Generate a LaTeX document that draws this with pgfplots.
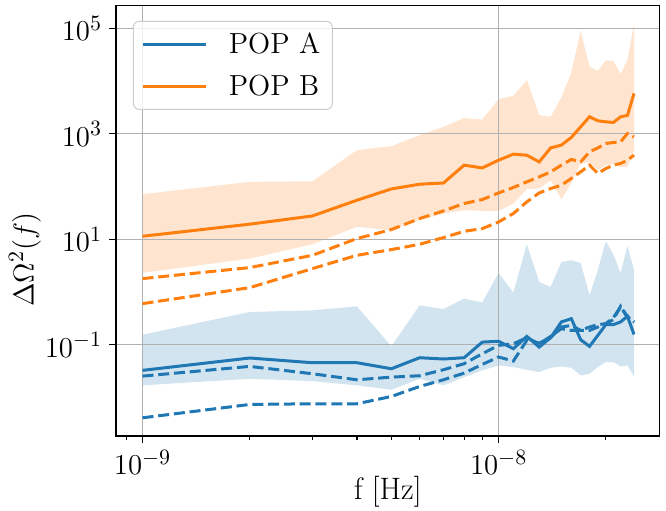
\documentclass[border=0pt]{standalone}
\usepackage{pgfplots}
\pgfplotsset{compat=1.18}
\usepackage{pgfplotstable}
\usepgfplotslibrary{fillbetween}
\definecolor{cA}{HTML}{1F77B4}
\definecolor{cB}{HTML}{FF7F0E}
\definecolor{gridc}{HTML}{B0B0B0}
\definecolor{legc}{HTML}{CCCCCC}

\pgfplotstableread{
f bu bl bs bda bdb
1e-9 0.156 0.0171 0.0329 0.0256 0.00415
2e-9 0.420 0.0228 0.0564 0.0391 0.00743
3e-9 0.452 0.0206 0.0459 0.0284 0.00766
4e-9 0.538 0.0171 0.0459 0.0218 0.00766
5e-9 0.0938 0.0141 0.0353 0.0245 0.01054
6e-9 0.562 0.0228 0.0571 0.0260 0.0163
7e-9 0.479 0.0171 0.0540 0.0338 0.0218
8e-9 0.752 0.0245 0.0571 0.0440 0.0292
9e-9 0.641 0.0329 0.113 0.0681 0.0427
1e-8 2.31 0.0408 0.117 0.0979 0.0589
1.1e-8 0.977 0.0380 0.0847 0.105 0.0494
1.2e-8 8.07 0.0338 0.145 0.137 0.122
1.3e-8 1.56 0.0305 0.0910 0.105 0.108
1.4e-8 1.25 0.0369 0.137 0.145 0.137
1.5e-8 3.73 0.0391 0.272 0.203 0.218
1.6e-8 4.02 0.0369 0.314 0.188 0.234
1.7e-8 3.57 0.0264 0.125 0.188 0.188
1.8e-8 0.871 0.0284 0.0938 0.218 0.188
1.9e-8 2.67 0.0380 0.152 0.242 0.218
2e-8 9.20 0.0473 0.242 0.252 0.252
2.1e-8 5.22 0.0473 0.242 0.328 0.301
2.2e-8 2.31 0.0391 0.272 0.522 0.538
2.3e-8 7.52 0.0408 0.348 0.348 0.328
2.4e-8 2.67 0.0253 0.158 0.272 0.272
}\popA

\pgfplotstableread{
f ou ol os oda odb
1e-9 71.8 2.31 11.46 1.803 0.605
2e-9 123 4.33 19.4 2.917 1.216
3e-9 126 8.07 27.8 4.99 2.79
4e-9 491 17.3 55.2 10.35 4.99
5e-9 585 14.9 90.4 15.35 6.40
6e-9 944 23.1 111 24.8 8.07
7e-9 1358 30.9 117 34.6 10.8
8e-9 1986 35.7 255 47.8 14.2
9e-9 1875 34.7 226 56.9 16.0
1e-8 4550 34.7 317 75.9 21.4
1.1e-8 5260 47.8 412 96.2 30.9
1.2e-8 10450 89.1 394 123 51.3
1.3e-8 2265 92.0 294 153 75.9
1.4e-8 2104 132 542 190 92.0
1.5e-8 4910 56.9 611 255 106
1.6e-8 14390 117 855 327 143
1.7e-8 88900 274 1358 294 190
1.8e-8 18700 294 2104 456 255
1.9e-8 15700 205 1766 542 177
2e-8 24700 255 1690 656 220
2.1e-8 23990 266 1644 685 255
2.2e-8 13580 237 2104 705 274
2.3e-8 25000 237 2234 1016 317
2.4e-8 119100 491 5850 877 394
}\popB

\begin{document}
\begin{tikzpicture}
\begin{axis}[
  set layers,
  fill between/on layer=axis background,
  scale only axis, width=271.75pt, height=215.35pt,
  xmode=log, ymode=log,
  xmin=8.425e-10, xmax=2.83e-8, ymin=1.875e-3, ymax=2.73e5,
  xtick={1e-9,1e-8},
  minor xtick={9e-10,2e-9,3e-9,4e-9,5e-9,6e-9,7e-9,8e-9,9e-9,2e-8},
  ytick={1e-1,1e1,1e3,1e5}, minor ytick={},
  tick align=outside, tick pos=left,
  major tick length=3.5pt, minor tick length=2pt,
  every tick/.style={black, line width=0.6pt},
  grid=major, major grid style={gridc, line width=0.6pt},
  axis line style={black, line width=0.7pt},
  every tick label/.append style={font=\fontsize{15.5}{18}\selectfont},
  label style={font=\fontsize{15.5}{18}\selectfont},
  xlabel={f [Hz]}, ylabel={$\Delta\Omega^2(f)$},
  xlabel style={at={(axis description cs:0.5,-0.130)}, anchor=center},
  ylabel style={at={(axis description cs:-0.1674,0.41)}, anchor=center},
  legend style={at={(0.031,0.964)}, anchor=north west, draw=legc, line width=0.5pt,
    rounded corners=3pt, fill=white, fill opacity=0.8, text opacity=1,
    font=\fontsize{14.5}{17}\selectfont, inner xsep=4pt, inner ysep=3.5pt,
    row sep=5.5pt, /tikz/every odd column/.append style={column sep=8.75pt}},
  legend cell align=left,
  legend image code/.code={\draw[#1] (0pt,0pt) -- (31.5pt,0pt);},
  every axis plot/.append style={line width=1.5pt},
]
\addplot[name path=BU, draw=none, forget plot] table[x=f,y=bu]{\popA};
\addplot[name path=BL, draw=none, forget plot] table[x=f,y=bl]{\popA};
\addplot[fill=cA!20, draw=none, forget plot] fill between[of=BU and BL];
\addplot[name path=OU, draw=none, forget plot] table[x=f,y=ou]{\popB};
\addplot[name path=OL, draw=none, forget plot] table[x=f,y=ol]{\popB};
\addplot[fill=cB!20, draw=none, forget plot] fill between[of=OU and OL];

\addplot[cA, solid] table[x=f,y=bs]{\popA};
\addlegendentry{POP A}
\addplot[cA, dash pattern=on 5.5pt off 2.4pt, forget plot] table[x=f,y=bda]{\popA};
\addplot[cA, dash pattern=on 5.5pt off 2.4pt, forget plot] table[x=f,y=bdb]{\popA};
\addplot[cB, solid] table[x=f,y=os]{\popB};
\addlegendentry{POP B}
\addplot[cB, dash pattern=on 5.5pt off 2.4pt, forget plot] table[x=f,y=oda]{\popB};
\addplot[cB, dash pattern=on 5.5pt off 2.4pt, forget plot] table[x=f,y=odb]{\popB};

\coordinate (BLc) at (rel axis cs:0,0);
\coordinate (TRc) at (rel axis cs:1,1);
\end{axis}
\pgfresetboundingbox
\path ([shift={(-58pt,-37pt)}]BLc) rectangle ([shift={(3.25pt,2.65pt)}]TRc);
\end{tikzpicture}
\end{document}
